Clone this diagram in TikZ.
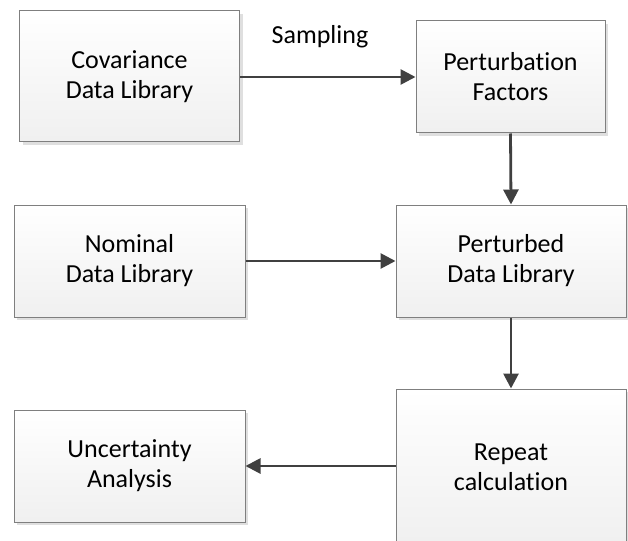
\documentclass[tikz,border=0pt]{standalone}
\usepackage{fontspec}
\setmainfont[Ligatures={NoCommon}]{Carlito}
\usepackage{tikz}
\usetikzlibrary{arrows.meta,shadows}

\definecolor{boxline}{HTML}{7F7F7F}
\definecolor{arrowline}{HTML}{404040}

\tikzset{
  flowbox/.style={draw=boxline, line width=1pt, top color=white, bottom color=gray!12,
    drop shadow={shadow xshift=3pt, shadow yshift=-3pt, fill=gray!25, opacity=1},
    align=center, inner sep=0pt, font=\fontsize{26}{30}\selectfont},
  flowarrow/.style={draw=arrowline, line width=2.8pt, -{Triangle[length=15pt,width=15pt]}}
}

\begin{document}
\begin{tikzpicture}[x=1pt,y=-1pt]
\useasboundingbox (0,0) rectangle (628,540);
\node[flowbox, minimum width=220pt, minimum height=131pt] (cov) at (129.5,76.5) {Covariance\\Data Library};
\node[flowbox, minimum width=189pt, minimum height=112pt] (pfac) at (510.5,77) {Perturbation\\Factors};
\node[flowbox, minimum width=231pt, minimum height=112pt] (nom) at (129.5,261) {Nominal\\Data Library};
\node[flowbox, minimum width=230pt, minimum height=112pt] (pert) at (511,261) {Perturbed\\Data Library};
\node[flowbox, minimum width=230pt, minimum height=156pt] (rep) at (511,467) {Repeat\\calculation};
\node[flowbox, minimum width=231pt, minimum height=112pt] (unc) at (129.5,466) {Uncertainty\\Analysis};
\node[font=\fontsize{26}{30}\selectfont] (samp) at (320,37) {Sampling};

\draw[flowarrow] (cov.east |- pfac) -- (pfac.west);
\draw[flowarrow] (pfac.south) -- (pert.north);
\draw[flowarrow] (nom.east) -- (pert.west);
\draw[flowarrow] (pert.south) -- (rep.north);
\draw[flowarrow] (rep.west |- unc) -- (unc.east);
\end{tikzpicture}
\end{document}
